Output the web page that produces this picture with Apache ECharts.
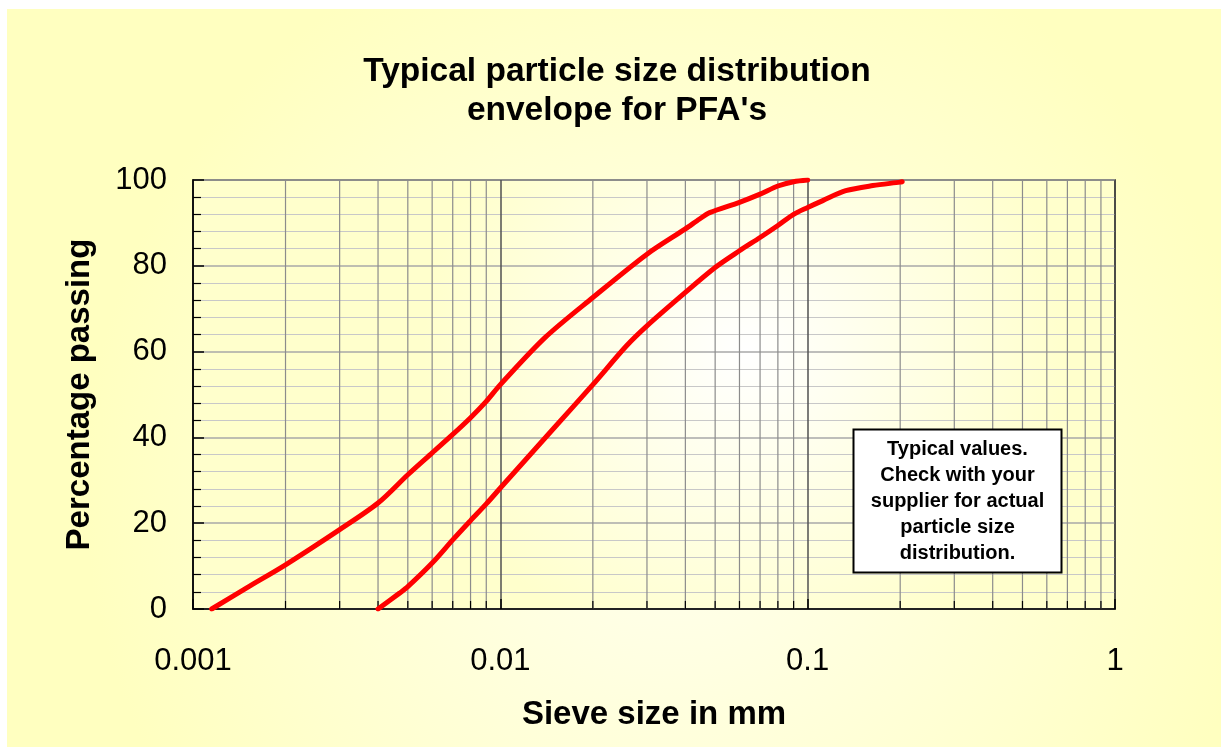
<!DOCTYPE html>
<html>
<head>
<meta charset="utf-8">
<script src="https://cdn.jsdelivr.net/npm/echarts@6/dist/echarts.min.js"></script>
<style>
html,body{margin:0;padding:0;background:#ffffff;}
#chart{width:1221px;height:747px;}
</style>
</head>
<body>
<div id="chart"></div>
<script>
// ---- data ----
const titleLines = ['Typical particle size distribution', "envelope for PFA's"];
const xAxisName = 'Sieve size in mm';
const yAxisName = 'Percentage passing';
const xTickLabels = ['0.001', '0.01', '0.1', '1'];
const xMinorTicks = [0.002,0.003,0.004,0.005,0.006,0.007,0.008,0.009,
                     0.02,0.03,0.04,0.05,0.06,0.07,0.08,0.09,
                     0.2,0.3,0.4,0.5,0.6,0.7,0.8,0.9];
const noteLines = ['Typical values.', 'Check with your', 'supplier for actual', 'particle size', 'distribution.'];

// fine (upper-left) envelope: sieve size mm, % passing
const fineSize =    [0.00115,0.0015,0.002,0.003,0.004,0.005,0.006,0.007,0.008,0.009,0.01,0.014,0.02,0.03,0.04,0.0445,0.048,0.06,0.07,0.08,0.09,0.1];
const finePassing = [0,      5,     10.3, 18.5, 24.7, 31.3, 36.4, 40.7, 44.6, 48.4, 52.3,63.3, 72.6,82.7,88.6,90.9,  92.4, 94.8,96.7,98.6,99.6,100];

// coarse (lower-right) envelope
const coarseSize =    [0.004,0.0047,0.005,0.006,0.007,0.008,0.009,0.01,0.015,0.02,0.0257,0.03,0.04,0.05,0.06,0.07,0.08,0.09,0.1, 0.112,0.133,0.163,0.2, 0.203];
const coarsePassing = [0,    3.7,   5.2,  10.7, 16.1, 20.6, 24.5, 28.2,42.3, 52.3,61.3,  66,  73.8,79.6,83.5,86.6,89.4,92,  93.6,95.2, 97.5, 98.7, 99.5,99.6];

const FONT = '"Liberation Sans", Arial, sans-serif';
const zip = (a, b) => a.map((v, i) => [v, b[i]]);

const chart = echarts.init(document.getElementById('chart'), null, {renderer: 'canvas'});
chart.setOption({
  animation: false,
  textStyle: {fontFamily: FONT},
  title: {
    text: titleLines.join('\n'),
    left: 617, top: 53, padding: 0,
    textAlign: 'center',
    textStyle: {fontFamily: FONT, fontSize: 33.5, fontWeight: 'bold', color: '#000', lineHeight: 38.5}
  },
  graphic: [
    {
      type: 'rect', z: -100, silent: true,
      shape: {x: 7, y: 9, width: 1214, height: 738},
      style: {fill: new echarts.graphic.RadialGradient(0.55, 0.65, 0.8, [
        {offset: 0, color: '#FFFFF0'}, {offset: 1, color: '#FFFFC0'}])}
    },
    {type: 'rect', z: 200, zlevel: 1, silent: true,
     shape: {x: 853.5, y: 429.5, width: 208, height: 143},
     style: {fill: '#FFFFFF', stroke: '#000000', lineWidth: 2}},
    {type: 'text', z: 201, zlevel: 1, silent: true, x: 957.5, y: 501,
     style: {text: noteLines.join('\n'), fontFamily: FONT, fontSize: 20, fontWeight: 'bold',
             lineHeight: 26, fill: '#000', align: 'center', verticalAlign: 'middle'}}
  ],
  grid: {
    left: 193, top: 180, width: 922, height: 429,
    show: true,
    backgroundColor: new echarts.graphic.RadialGradient(0.6, 0.4, 0.75, [
      {offset: 0, color: '#FFFFFF'}, {offset: 1, color: '#FFFFCC'}]),
    borderColor: '#000', borderWidth: 1.5
  },
  xAxis: {
    type: 'log', logBase: 10, min: 0.001, max: 1,
    name: xAxisName, nameLocation: 'middle', nameGap: 89,
    nameTextStyle: {fontFamily: FONT, fontSize: 33, fontWeight: 'bold', color: '#000'},
    axisLine: {show: true, onZero: false, lineStyle: {color: '#000', width: 1.5}},
    axisTick: {show: true, inside: true, length: 10, lineStyle: {color: '#000', width: 1.5}},
    axisLabel: {fontFamily: FONT, fontSize: 31, color: '#000', margin: 37,
                formatter: (v, i) => xTickLabels[i] !== undefined ? xTickLabels[i] : String(v)},
    splitLine: {show: true, lineStyle: {color: '#505050', width: 1.5}},
    minorTick: {show: false}, minorSplitLine: {show: false}
  },
  yAxis: {
    type: 'value', min: 0, max: 100, interval: 20,
    name: yAxisName, nameLocation: 'middle', nameGap: 97,
    nameTextStyle: {fontFamily: FONT, fontSize: 33, fontWeight: 'bold', color: '#000'},
    axisLine: {show: true, lineStyle: {color: '#000', width: 1.5}},
    axisTick: {show: true, inside: true, length: 11, lineStyle: {color: '#000', width: 1.5}},
    minorTick: {show: true, splitNumber: 5, length: 8, lineStyle: {color: '#000', width: 1.2}},
    axisLabel: {fontFamily: FONT, fontSize: 31, color: '#000', margin: 26},
    splitLine: {show: true, lineStyle: {color: '#A8A8A8', width: 1.5}},
    minorSplitLine: {show: true, lineStyle: {color: '#C8C8C8', width: 1.2}}
  },
  series: [
    {
      type: 'custom', z: 1, silent: true,
      data: xMinorTicks.map(v => [v, 0]),
      renderItem: function (params, api) {
        const v = api.value(0);
        const b = api.coord([v, 0]);
        const t = api.coord([v, 100]);
        return {type: 'group', children: [
          {type: 'line', shape: {x1: b[0], y1: b[1], x2: t[0], y2: t[1]},
           style: {stroke: '#8C8C8C', lineWidth: 1.2}},
          {type: 'line', shape: {x1: b[0], y1: b[1], x2: b[0], y2: b[1] - 8},
           style: {stroke: '#000', lineWidth: 1.2}}
        ]};
      }
    },
    {
      name: 'Fine limit', type: 'line', z: 5, smooth: 0.3,
      showSymbol: false, symbol: 'none',
      data: zip(fineSize, finePassing),
      lineStyle: {color: '#FF0000', width: 5, cap: 'round'}
    },
    {
      name: 'Coarse limit', type: 'line', z: 5, smooth: 0.3,
      showSymbol: false, symbol: 'none',
      data: zip(coarseSize, coarsePassing),
      lineStyle: {color: '#FF0000', width: 5, cap: 'round'}
    }
  ]
});
</script>
</body>
</html>
